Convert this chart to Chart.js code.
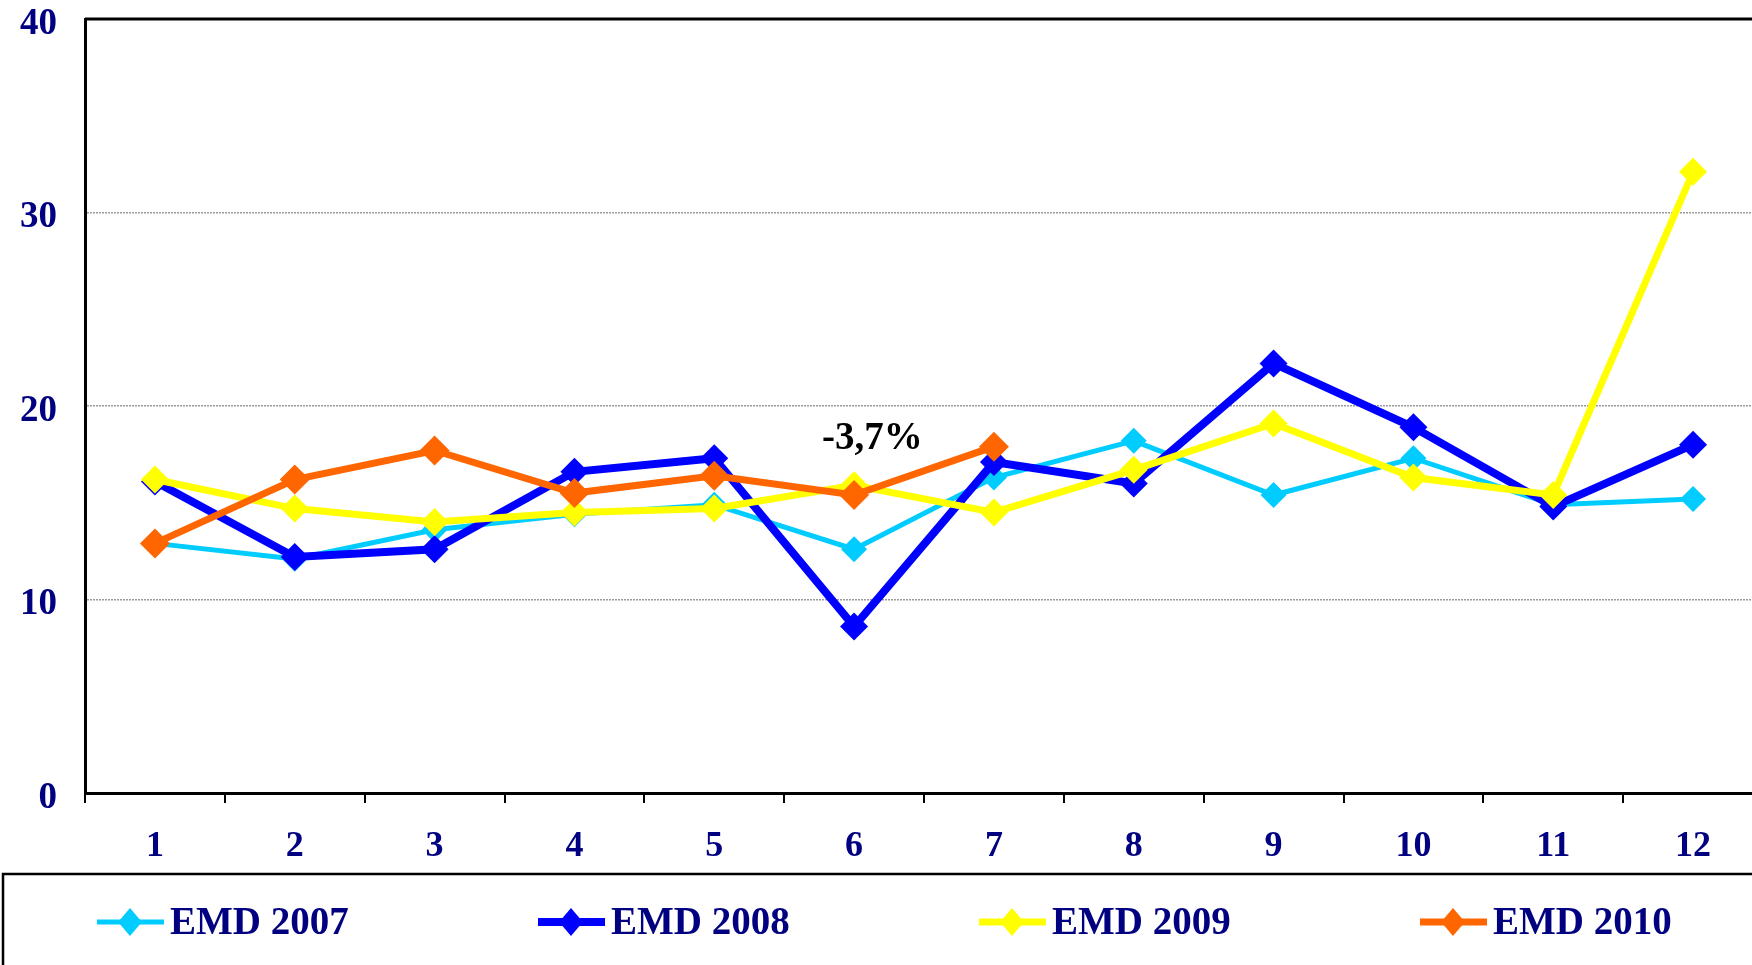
<!DOCTYPE html>
<html>
<head>
<meta charset="utf-8">
<script src="https://cdn.jsdelivr.net/npm/chart.js@4.4.1/dist/chart.umd.min.js"></script>
<style>
  html, body { margin: 0; padding: 0; background: #fff; overflow: hidden; }
  #wrap { width: 1752px; height: 965px; overflow: hidden; }
</style>
</head>
<body>
<div id="wrap"><canvas id="chartEmd" width="1763" height="965"></canvas></div>
<script>
// dados do gráfico
const meses = ['1', '2', '3', '4', '5', '6', '7', '8', '9', '10', '11', '12'];
const emd2007 = [12.9, 12.1, 13.6, 14.4, 14.9, 12.6, 16.3, 18.2, 15.4, 17.3, 14.9, 15.2];
const emd2008 = [16.1, 12.2, 12.6, 16.6, 17.3, 8.6, 17.1, 16.0, 22.2, 18.9, 14.8, 18.0];
const emd2009 = [16.2, 14.7, 14.0, 14.5, 14.7, 15.9, 14.5, 16.7, 19.1, 16.3, 15.4, 32.1];
const emd2010 = [12.9, 16.2, 17.7, 15.5, 16.4, 15.4, 17.9, null, null, null, null, null];
const yTicks = [0, 10, 20, 30, 40];
const anotacao = { texto: '-3,7%', indice: 5.13, valor: 18.3 };

const navy = '#000080';
const fonte = 'Liberation Serif';

const series = [
    { label: 'EMD 2007', data: emd2007, color: '#00CCFF', width: 5, radius: 13, order: 4 },
    { label: 'EMD 2008', data: emd2008, color: '#0000FF', width: 8, radius: 14, order: 3 },
    { label: 'EMD 2009', data: emd2009, color: '#FFFF00', width: 7, radius: 14, order: 2 },
    { label: 'EMD 2010', data: emd2010, color: '#FF6600', width: 7, radius: 15, order: 1 }
];

function losango(ctx, x, y, r) {
    ctx.beginPath();
    ctx.moveTo(x - r * 0.85, y);
    ctx.lineTo(x, y - r);
    ctx.lineTo(x + r * 0.85, y);
    ctx.lineTo(x, y + r);
    ctx.closePath();
    ctx.fill();
}

// moldura do gráfico, anotação e legenda
const extras = {
    id: 'extras',
    beforeDatasetsDraw(chart) {
        const { ctx, chartArea } = chart;
        ctx.save();
        ctx.strokeStyle = '#000';
        ctx.lineWidth = 3;
        ctx.beginPath();
        ctx.moveTo(chartArea.left, chartArea.top);
        ctx.lineTo(chartArea.right, chartArea.top);
        ctx.stroke();
        ctx.restore();
    },
    afterDraw(chart) {
        const { ctx, scales } = chart;
        ctx.save();
        // anotação
        ctx.fillStyle = '#000';
        ctx.font = 'bold 39px "' + fonte + '"';
        ctx.textAlign = 'center';
        ctx.textBaseline = 'middle';
        ctx.fillText(anotacao.texto, scales.x.getPixelForValue(anotacao.indice), scales.y.getPixelForValue(anotacao.valor));

        // caixa da legenda
        ctx.strokeStyle = '#000';
        ctx.lineWidth = 2.5;
        ctx.strokeRect(3, 874, chart.width + 20, 200);

        const yLeg = 922;
        series.forEach((s, i) => {
            const x0 = 97 + i * 441;
            ctx.strokeStyle = s.color;
            ctx.fillStyle = s.color;
            ctx.lineWidth = s.width;
            ctx.beginPath();
            ctx.moveTo(x0, yLeg);
            ctx.lineTo(x0 + 67, yLeg);
            ctx.stroke();
            losango(ctx, x0 + 33, yLeg, 14);
            ctx.fillStyle = navy;
            ctx.font = 'bold 39px "' + fonte + '"';
            ctx.textAlign = 'left';
            ctx.fillText(s.label, x0 + 73, yLeg + 2);
        });
        ctx.restore();
    }
};

const ctx = document.getElementById('chartEmd').getContext('2d');

new Chart(ctx, {
    type: 'line',
    data: {
        labels: meses,
        datasets: series.map(s => ({
            label: s.label,
            data: s.data,
            borderColor: s.color,
            backgroundColor: s.color,
            borderWidth: s.width,
            pointStyle: 'rectRot',
            pointRadius: s.radius,
            pointBorderWidth: 0,
            pointBackgroundColor: s.color,
            tension: 0,
            order: s.order,
            fill: false
        }))
    },
    options: {
        responsive: false,
        animation: false,
        layout: { autoPadding: false, padding: { top: 19, left: 0, right: 0, bottom: 0 } },
        plugins: {
            legend: { display: false },
            tooltip: { enabled: false }
        },
        scales: {
            x: {
                offset: true,
                grid: {
                    offset: true,
                    drawOnChartArea: false,
                    drawTicks: true,
                    tickLength: 10,
                    color: '#000',
                    lineWidth: 2
                },
                border: { color: '#000', width: 3 },
                ticks: {
                    color: navy,
                    font: { family: fonte, size: 36, weight: 'bold' },
                    padding: 22,
                    maxRotation: 0
                },
                afterFit: (scale) => {
                    scale.height = 172;
                    scale.paddingLeft = 0;
                    scale.paddingRight = 0;
                }
            },
            y: {
                min: yTicks[0],
                max: yTicks[yTicks.length - 1],
                afterBuildTicks: (scale) => { scale.ticks = yTicks.map(v => ({ value: v })); },
                grid: {
                    color: '#9a9a9a',
                    lineWidth: 1.5,
                    drawTicks: false
                },
                border: { color: '#000', width: 3, dash: [2, 1] },
                ticks: {
                    color: navy,
                    font: { family: fonte, size: 37, weight: 'bold' },
                    padding: 28,
                    labelOffset: 5
                },
                afterFit: (scale) => {
                    scale.width = 85;
                    scale.paddingTop = 0;
                    scale.paddingBottom = 0;
                }
            }
        }
    },
    plugins: [extras]
});
</script>
</body>
</html>
